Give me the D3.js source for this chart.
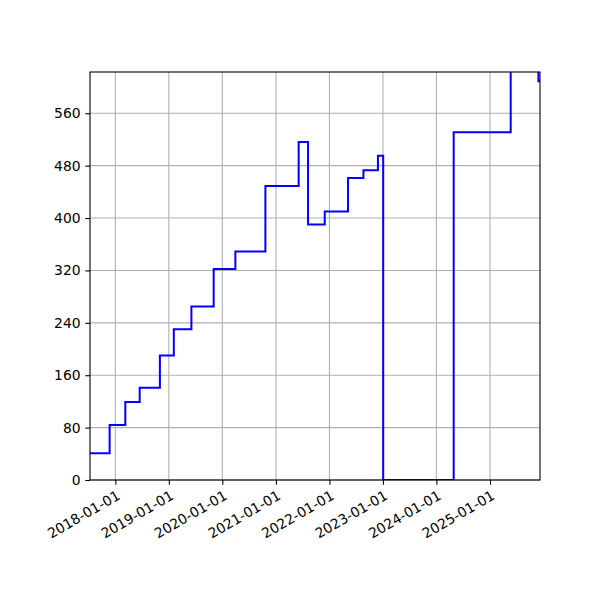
<!DOCTYPE html>
<html lang="en">
<head>
<meta charset="UTF-8">
<title>Step chart</title>
<script src="https://d3js.org/d3.v7.min.js"></script>
<style>
    body { margin: 0; background: white; }
    text { font-family: "DejaVu Sans", sans-serif; font-size: 13.9px; fill: black; }
</style>
</head>
<body>
<div id="chart"></div>
<script>
// step dates (value holds until next date) and values
const dates = ["2017-07-12", "2017-11-23", "2018-03-10", "2018-06-16", "2018-11-01",
    "2019-02-04", "2019-06-04", "2019-11-03", "2020-03-30", "2020-10-21",
    "2021-06-05", "2021-08-08", "2021-11-30", "2022-05-08", "2022-08-21",
    "2022-11-28", "2023-01-03", "2024-04-28", "2025-05-22", "2025-11-27", "2025-12-08"];
const values = [41, 84, 119, 141, 190, 230, 265, 322, 349, 449,
    516, 390, 410, 461, 473, 495, 0, 531, 640, 609, 609];
const yTicks = [0, 80, 160, 240, 320, 400, 480, 560];
const xTicks = ["2018-01-01", "2019-01-01", "2020-01-01", "2021-01-01",
    "2022-01-01", "2023-01-01", "2024-01-01", "2025-01-01"];

const parse = d3.timeParse("%Y-%m-%d");
const data = dates.map((d, i) => ({date: parse(d), value: values[i]}));

const W = 600, H = 600;
const margin = {top: 72, right: 60, bottom: 120, left: 90};
const width = W - margin.left - margin.right;
const height = H - margin.top - margin.bottom;

const svg = d3.select("#chart").append("svg")
    .attr("width", W).attr("height", H);
const g = svg.append("g").attr("transform", `translate(${margin.left},${margin.top})`);

const x = d3.scaleTime()
    .domain([parse("2017-07-12"), parse("2025-12-08")])
    .range([0, width]);
const y = d3.scaleLinear().domain([0, 623]).range([height, 0]);

// grid
g.selectAll(".vgrid").data(xTicks).enter().append("line")
    .attr("x1", d => x(parse(d))).attr("x2", d => x(parse(d)))
    .attr("y1", 0).attr("y2", height)
    .attr("stroke", "#b0b0b0").attr("stroke-width", 1.1);
g.selectAll(".hgrid").data(yTicks).enter().append("line")
    .attr("x1", 0).attr("x2", width)
    .attr("y1", d => y(d)).attr("y2", d => y(d))
    .attr("stroke", "#b0b0b0").attr("stroke-width", 1.1);

// clip + line
g.append("clipPath").attr("id", "clip").append("rect")
    .attr("width", width).attr("height", height);
const line = d3.line()
    .x(d => x(d.date)).y(d => y(d.value))
    .curve(d3.curveStepAfter);
g.append("path").datum(data)
    .attr("clip-path", "url(#clip)")
    .attr("fill", "none").attr("stroke", "#0000ff").attr("stroke-width", 2)
    .attr("d", line);

// axes
const yAxis = g.append("g")
    .call(d3.axisLeft(y).tickValues(yTicks).tickSize(4.7).tickPadding(4.7));
const xAxis = g.append("g").attr("transform", `translate(0,${height})`)
    .call(d3.axisBottom(x).tickValues(xTicks.map(parse)).tickSize(4.7)
        .tickFormat(d3.timeFormat("%Y-%m-%d")));
[xAxis, yAxis].forEach(a => {
    a.select(".domain").remove();
    a.selectAll("line").attr("stroke", "black").attr("stroke-width", 1.1);
    a.selectAll("text").attr("font-family", "DejaVu Sans").attr("font-size", 13.9);
});
xAxis.selectAll("text")
    .attr("text-anchor", "end")
    .attr("dy", "0.75em")
    .attr("y", 0)
    .attr("transform", "translate(0,9.4) rotate(-30)");

// frame
g.append("rect").attr("width", width).attr("height", height)
    .attr("fill", "none").attr("stroke", "black").attr("stroke-width", 1.1);
</script>
</body>
</html>
